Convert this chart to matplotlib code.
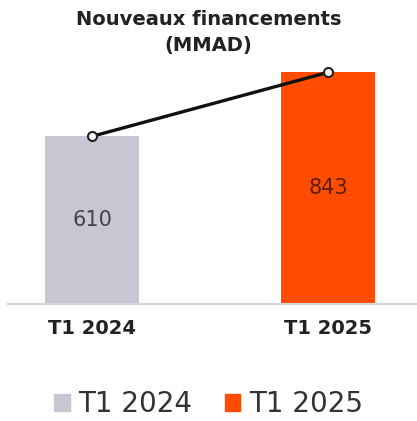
import matplotlib
matplotlib.use("Agg")
import matplotlib.pyplot as plt
from matplotlib.patches import Patch

categories = ["T1 2024", "T1 2025"]
values = [610, 843]
colors = ["#C6C7D3", "#FF4C00"]
label_colors = ["#444444", "#5A1E0A"]
title = "Nouveaux financements\n(MMAD)"

fig = plt.figure(figsize=(4.17, 4.21), dpi=100)
ax = fig.add_axes([0.019, 0.278, 0.981, 0.62])

x = list(range(len(categories)))
ax.bar(x, values, width=0.395, color=colors, zorder=2)
ax.plot(x, values, color="#111111", lw=2.4, marker="o", markersize=6.5,
        markerfacecolor="white", markeredgecolor="#222222", markeredgewidth=1.5, zorder=4)

for xi, v, c in zip(x, values, label_colors):
    ax.text(xi, v / 2, f"{v}", ha="center", va="center", fontsize=15, color=c, zorder=5)

ax.set_xlim(-0.356, 1.377)
ax.set_ylim(0, 950)
for s in ["top", "right", "left"]:
    ax.spines[s].set_visible(False)
ax.spines["bottom"].set_color("#D8D8D8")
ax.spines["bottom"].set_linewidth(1.5)
ax.set_yticks([])
ax.set_xticks(x)
ax.set_xticklabels(categories, fontsize=14, fontweight="bold", color="#222222")
ax.tick_params(axis="x", length=0, pad=11)

fig.text(0.5, 0.923, title, ha="center", va="center", fontsize=14,
         fontweight="bold", color="#222222", linespacing=1.45)

handles = [Patch(color=c, label=l) for c, l in zip(colors, categories)]
fig.legend(handles=handles, loc="center", bbox_to_anchor=(0.5, 0.04), ncol=2,
           frameon=False, prop={"family": "DejaVu Sans", "size": 20},
           handlelength=0.55, handleheight=0.55,
           handletextpad=0.3, columnspacing=1.2, labelcolor="#333333",
           borderpad=0.1)

fig.savefig("out.png", dpi=100)
